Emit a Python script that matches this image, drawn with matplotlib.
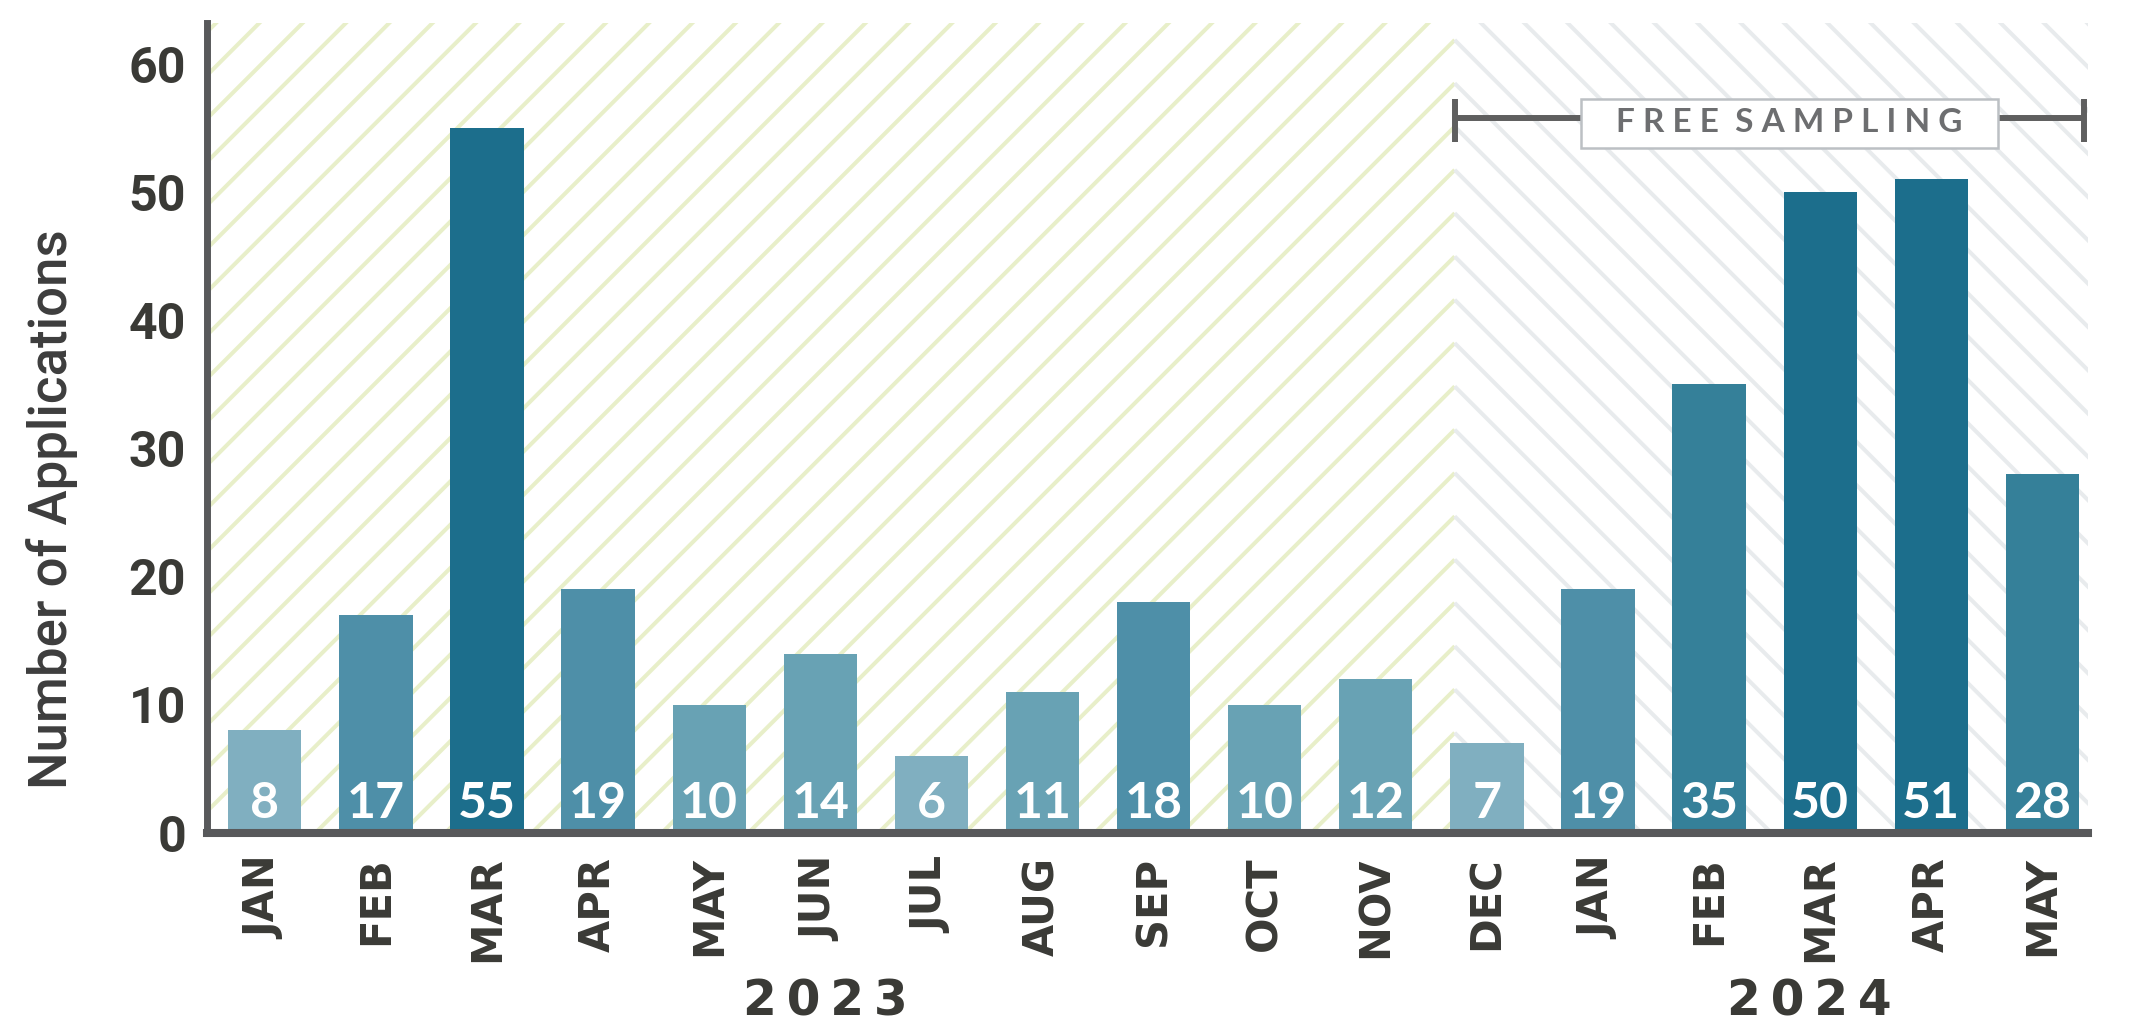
## Grafico de barras: solicitudes por mes 2023-2024
import matplotlib.pyplot as plt
import matplotlib.transforms as mtransforms
from matplotlib.patches import Rectangle
import numpy as np

# datos
months = ['JAN', 'FEB', 'MAR', 'APR', 'MAY', 'JUN', 'JUL', 'AUG', 'SEP', 'OCT', 'NOV', 'DEC',
          'JAN', 'FEB', 'MAR', 'APR', 'MAY']
applications = [8, 17, 55, 19, 10, 14, 6, 11, 18, 10, 12, 7, 19, 35, 50, 51, 28]
years = ['2023', '2024']
year_pos = [5.05, 13.9]
yticks = [0, 10, 20, 30, 40, 50, 60]
sampling_label = 'FREE SAMPLING'
sampling_start = 10.71   # inicio del periodo de muestreo (eje x)
sampling_end = 16.37

dark = '#3a3a36'
axis_gray = '#58595b'

def bar_color(v):
    # tono segun el valor
    if v >= 50:
        return '#1c6e8c'
    if v >= 28:
        return '#358099'
    if v >= 17:
        return '#4e8fa8'
    if v >= 10:
        return '#68a2b4'
    return '#80afc0'

W_px, H_px = 2129, 1029
fig = plt.figure(figsize=(W_px / 100, H_px / 100), dpi=100)
rect = [207 / W_px, 1 - 833 / H_px, (2088 - 207) / W_px, (833 - 23) / H_px]

xmin, xmax = -0.52, 16.41
ymin, ymax = 0, 63.2

###### fondo rayado (amarillo a la izquierda, gris a la derecha) ######
bg = fig.add_axes(rect, zorder=0)
bg.axis('off')
aw = rect[2] * W_px
ah = rect[3] * H_px
bg.set_xlim(0, aw)
bg.set_ylim(0, ah)
bx = aw * (sampling_start - xmin) / (xmax - xmin)
step = 43.3
L = aw + ah
for k in range(-60, 40):
    ya = ah - 17 - k * step
    bg.plot([bx - L, bx], [ya - L, ya], color='#e8efc9', lw=2.9, solid_capstyle='butt')
    bg.plot([bx, bx + L], [ya, ya - L], color='#e8ebed', lw=2.9, solid_capstyle='butt')

###### barras ######
ax = fig.add_axes(rect, zorder=1)
ax.set_facecolor('none')
x = np.arange(len(applications))
ax.bar(x, applications, width=0.66, color=[bar_color(v) for v in applications], zorder=2)

for i, v in enumerate(applications):
    ax.text(i, 1.15, str(v), ha='center', va='baseline', color='white',
            fontsize=36, fontweight='bold', family=['Lato', 'DejaVu Sans'], zorder=3)

ax.set_xlim(xmin, xmax)
ax.set_ylim(ymin, ymax)

for s in ['top', 'right']:
    ax.spines[s].set_visible(False)
ax.spines['left'].set_color(axis_gray)
ax.spines['left'].set_linewidth(5)
ax.spines['bottom'].set_color(axis_gray)
ax.spines['bottom'].set_linewidth(5.8)
ax.spines['left'].set_zorder(4)
ax.spines['bottom'].set_zorder(4)

ax.set_yticks(yticks)
ax.tick_params(axis='y', length=0, pad=15, labelsize=36, labelcolor=dark)
for lbl in ax.get_yticklabels():
    lbl.set_fontfamily(['Liberation Sans Narrow', 'Roboto'])
    lbl.set_fontweight('bold')

ax.set_xticks(x)
ax.set_xticklabels(months, rotation=90, fontsize=30, fontweight='bold',
                   family='DejaVu Sans', color=dark)
ax.tick_params(axis='x', length=0, pad=17)

# titulo del eje y
fig.text(52 / W_px, 1 - 509 / H_px, 'Number of Applications', rotation=90,
         ha='center', va='center', fontsize=38, family=['Roboto', 'DejaVu Sans'],
         fontweight='medium', color='#3d3d3d')

# anios
trans = mtransforms.blended_transform_factory(ax.transData, fig.transFigure)
for yr, p in zip(years, year_pos):
    ax.text(p, 3 / H_px, '\u2009'.join(yr), transform=trans, ha='center', va='bottom',
            fontsize=35, fontweight='bold', family='DejaVu Sans', color=dark)

###### corchete de muestreo gratis ######
yb = 55.8
ax.plot([sampling_start, sampling_end], [yb, yb], color='#5f5f5f', lw=4.3, zorder=3,
        solid_capstyle='butt', clip_on=False)
for xe in [sampling_start, sampling_end]:
    ax.plot([xe, xe], [53.9, 57.3], color='#5f5f5f', lw=4.3, zorder=3,
            solid_capstyle='butt', clip_on=False)
bx0, bx1 = 11.85, 15.6
ax.add_patch(Rectangle((bx0, 53.45), bx1 - bx0, 57.3 - 53.45, facecolor='white',
                       edgecolor='#bcc0c4', lw=1.8, zorder=4))
ax.text((bx0 + bx1) / 2, 55.4, ' '.join(sampling_label).replace('   ', '  '), ha='center',
        va='center', fontsize=24, fontweight='bold', family=['Lato', 'DejaVu Sans'],
        color='#6d6e70', zorder=5)

plt.savefig('out.png', dpi=100)
plt.close('all')
